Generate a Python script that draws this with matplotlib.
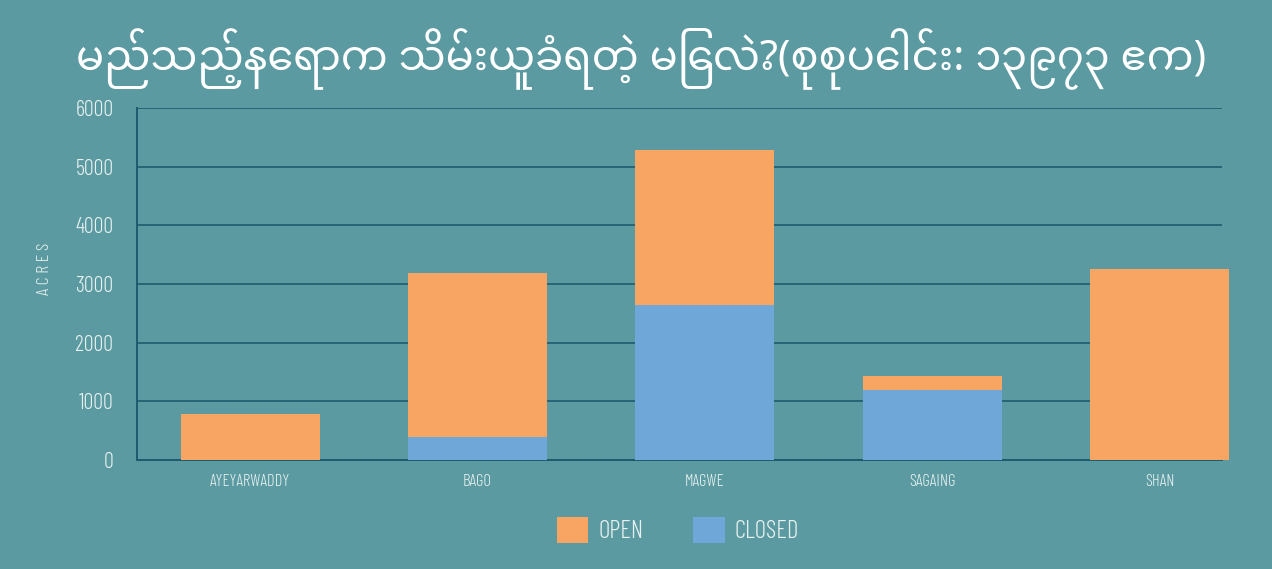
import matplotlib
matplotlib.use("Agg")
import matplotlib.pyplot as plt
from matplotlib.patches import Patch
from matplotlib import font_manager as fm
import numpy as np

# ---- data ----
regions = ["AYEYARWADDY", "BAGO", "MAGWE", "SAGAING", "SHAN"]
closed = [0, 390, 2645, 1195, 0]
open_ = [790, 2800, 2645, 245, 3260]
yticks = [0, 1000, 2000, 3000, 4000, 5000, 6000]
title = "မည်သည့်နေရာက သိမ်းယူခံရတဲ့ မြေလဲ?(စုစုပေါင်း: ၁၃၉၇၃ ဧက)"
ylabel = "A C R E S"
legend_labels = ["OPEN", "CLOSED"]

BG = "#5a9aa0"
ORANGE = "#f8a462"
BLUE = "#6fa8d8"
GRID = "#1d5b6f"
TXT = "#e8f1f1"

names = {f.name for f in fm.fontManager.ttflist}


def pick(cands, default="DejaVu Sans"):
    for c in cands:
        if c in names:
            return c
    return default


cond = pick(["Saira Extra Condensed", "Barlow Condensed", "Roboto Condensed"])
mm = pick(["Noto Sans Myanmar", "Padauk", "Myanmar Sans Pro"])

plt.rcParams["font.family"] = [cond, "DejaVu Sans"]
plt.rcParams["font.weight"] = 300

fig = plt.figure(figsize=(12.72, 5.69), dpi=100, facecolor=BG)
ax = fig.add_axes([137 / 1272, 1 - 460 / 569, (1222 - 137) / 1272, (460 - 108) / 569])
ax.set_facecolor(BG)

x = np.arange(len(regions)) * 1.006
w = 0.615
ax.bar(x, closed, w, color=BLUE, zorder=3, clip_on=False)
ax.bar(x, open_, w, bottom=closed, color=ORANGE, zorder=3, clip_on=False)

ax.set_xlim(-0.5, 4.30)
ax.set_ylim(0, 6000)
ax.set_yticks(yticks)
ax.set_yticklabels([str(v) for v in yticks])
ax.set_xticks(x)
ax.set_xticklabels(regions)
ax.tick_params(axis="y", length=0, pad=17, labelsize=16, labelcolor=TXT)
ax.tick_params(axis="x", length=0, pad=10, labelsize=12, labelcolor=TXT)
ax.yaxis.grid(True, color=GRID, linewidth=1.2, zorder=0)
ax.set_axisbelow(True)
for s in ["top", "right"]:
    ax.spines[s].set_visible(False)
for s in ["left", "bottom"]:
    ax.spines[s].set_color(GRID)
    ax.spines[s].set_linewidth(1.4)
    ax.spines[s].set_zorder(2)

fig.text(45 / 1272, 1 - 269 / 569, ylabel, rotation=90, color=TXT, fontsize=13,
         ha="center", va="center")

fig.text(641 / 1272, 1 - 58 / 569, title, color="white", fontsize=30,
         ha="center", va="center", family=[mm, "DejaVu Sans"], fontweight="normal")

handles = [Patch(facecolor=ORANGE, edgecolor="none"), Patch(facecolor=BLUE, edgecolor="none")]
fig.legend(handles, legend_labels, loc="center", bbox_to_anchor=(678 / 1272, 1 - 530 / 569),
           ncol=2, frameon=False, prop={"family": cond, "size": 18, "weight": 300},
           labelcolor=TXT, handlelength=1.25, handleheight=1.25, handletextpad=0.4,
           columnspacing=2.0)

fig.savefig("out.png", dpi=100, facecolor=BG)
